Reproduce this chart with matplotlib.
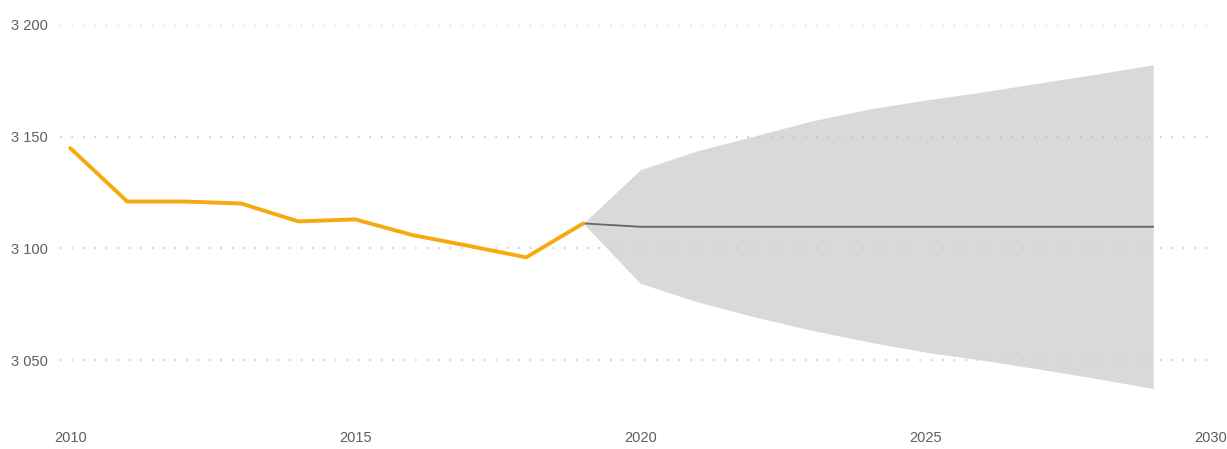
import matplotlib.pyplot as plt

years = [2010, 2011, 2012, 2013, 2014, 2015, 2016, 2017, 2018, 2019]
values = [3144.9, 3121.0, 3121.0, 3120.1, 3112.1, 3113.0, 3106.0, 3101.1, 3096.0, 3111.2]

fc_years = [2019, 2020, 2021, 2022, 2023, 2024, 2025, 2026, 2027, 2028, 2029]
fc_values = [3111.2, 3109.7, 3109.7, 3109.7, 3109.7, 3109.7, 3109.7, 3109.7, 3109.7, 3109.7, 3109.7]
fc_upper = [3111.2, 3135.2, 3143.7, 3150.3, 3157.0, 3162.3, 3166.4, 3170.0, 3174.0, 3178.0, 3182.2]
fc_lower = [3111.2, 3084.4, 3076.1, 3069.4, 3063.4, 3058.2, 3053.6, 3050.0, 3046.0, 3041.8, 3037.3]

y_ticks = [3050, 3100, 3150, 3200]
y_labels = ["3 050", "3 100", "3 150", "3 200"]
x_ticks = [2010, 2015, 2020, 2025, 2030]

plt.rcParams["font.family"] = ["Liberation Sans", "DejaVu Sans"]

W, H = 1227, 449
fig = plt.figure(figsize=(W / 100, H / 100), dpi=100)
# axes box in pixels: left 60, right 1217, top 25, bottom 416
ax = fig.add_axes([60 / W, 1 - 416 / H, (1217 - 60) / W, (416 - 25) / H])

ax.fill_between(fc_years, fc_lower, fc_upper, color="#dad9d8", linewidth=0, zorder=1)
ax.plot(fc_years, fc_values, color="#666666", linewidth=1.3, zorder=4)
ax.plot(years, values, color="#f5ab0d", linewidth=2.8, solid_joinstyle="round",
        solid_capstyle="round", zorder=5)

ax.set_xlim(2009.82, 2030.12)
ax.set_ylim(3025, 3200)
ax.set_yticks(y_ticks)
ax.set_yticklabels(y_labels)
ax.set_xticks(x_ticks)

ax.set_axisbelow(False)
ax.yaxis.grid(True, color="#bdbdbd", linewidth=1.1, linestyle=(0, (1, 6.5)))
ax.xaxis.grid(False)
for s in ax.spines.values():
    s.set_visible(False)
ax.tick_params(axis="both", length=0, labelsize=10.5, labelcolor="#605e5c")
ax.tick_params(axis="y", pad=9)
ax.tick_params(axis="x", pad=11)

fig.savefig("out.png", dpi=100)
